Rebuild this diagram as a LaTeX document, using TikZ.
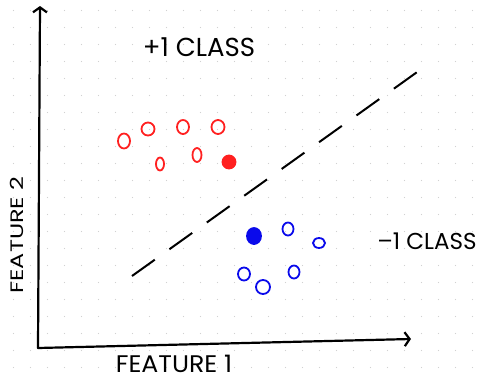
\documentclass[tikz,border=0pt]{standalone}
\usepackage{fontspec}
\setmainfont{Poppins}
\usetikzlibrary{positioning,shapes.geometric,arrows.meta}
\definecolor{plusred}{RGB}{255,32,32}
\definecolor{minusblue}{RGB}{10,10,235}
\tikzset{
	axis/.style={line width=2.2pt,line cap=round,-{Straight Barb[length=5pt,width=14pt,line width=2.2pt]}},
	pt/.style={ellipse,line width=1.8pt,inner sep=0pt},
	lbl/.style={inner sep=0pt,font=\fontsize{#1}{#1}\selectfont}
}
\begin{document}
\begin{tikzpicture}[x=1pt, y=-1pt]
		\useasboundingbox (0,0) rectangle (480,381);
		% dotted paper
		\foreach \i in {0,...,27}
			\foreach \j in {0,...,21}
				\fill[black!18] (13.5+17*\i,10.5+17*\j) circle (0.7pt);
		% axes
		\coordinate (o) at (38,348);
		\coordinate (ytip) at (40,6);
		\coordinate (xtip) at (411,339);
		\draw[axis] (o) -- (ytip);
		\draw[axis] (o) -- (xtip);
		% separating line
		\coordinate (d1) at (132,276);
		\coordinate (d2) at (420,70);
		\draw[line width=2pt, dash pattern=on 28pt off 18pt] (d1) -- (d2);
		% labels
		\node[lbl=26] (plus) at (199,47) {+1 CLASS};
		\node[lbl=23] (minus) at (427,241) {–1 CLASS};
		\node[lbl=24, xscale=1.05] (f1) at (174,364) {FEATURE 1};
		\node[lbl=24, rotate=90, yscale=0.75] (f2) at (17,235) {FEATURE 2};
		% +1 points
		\begin{scope}[every node/.style={pt,draw=plusred}]
			\node[minimum width=12pt, minimum height=15pt] (r1) at (124,141) {};
			\node[minimum width=13pt, minimum height=13pt] (r2) at (148,129) {};
			\node[minimum width=12pt, minimum height=14pt] (r3) at (183,127) {};
			\node[minimum width=13pt, minimum height=14pt] (r4) at (218,127) {};
			\node[minimum width=8pt, minimum height=13pt] (r5) at (160,164) {};
			\node[minimum width=9pt, minimum height=14pt] (r6) at (197,155) {};
			\node[fill=plusred, minimum width=13pt, minimum height=13pt] (rs) at (229,162) {};
		\end{scope}
		% -1 points
		\begin{scope}[every node/.style={pt,draw=minusblue}]
			\node[fill=minusblue, minimum width=14pt, minimum height=16pt] (bs) at (254,236) {};
			\node[minimum width=11pt, minimum height=13pt] (b1) at (288,229) {};
			\node[minimum width=12pt, minimum height=10pt] (b2) at (319,243) {};
			\node[minimum width=12pt, minimum height=13pt] (b3) at (244,274) {};
			\node[minimum width=14pt, minimum height=14pt] (b4) at (263,287) {};
			\node[minimum width=11pt, minimum height=13pt] (b5) at (294,272) {};
		\end{scope}
	\end{tikzpicture}
\end{document}
